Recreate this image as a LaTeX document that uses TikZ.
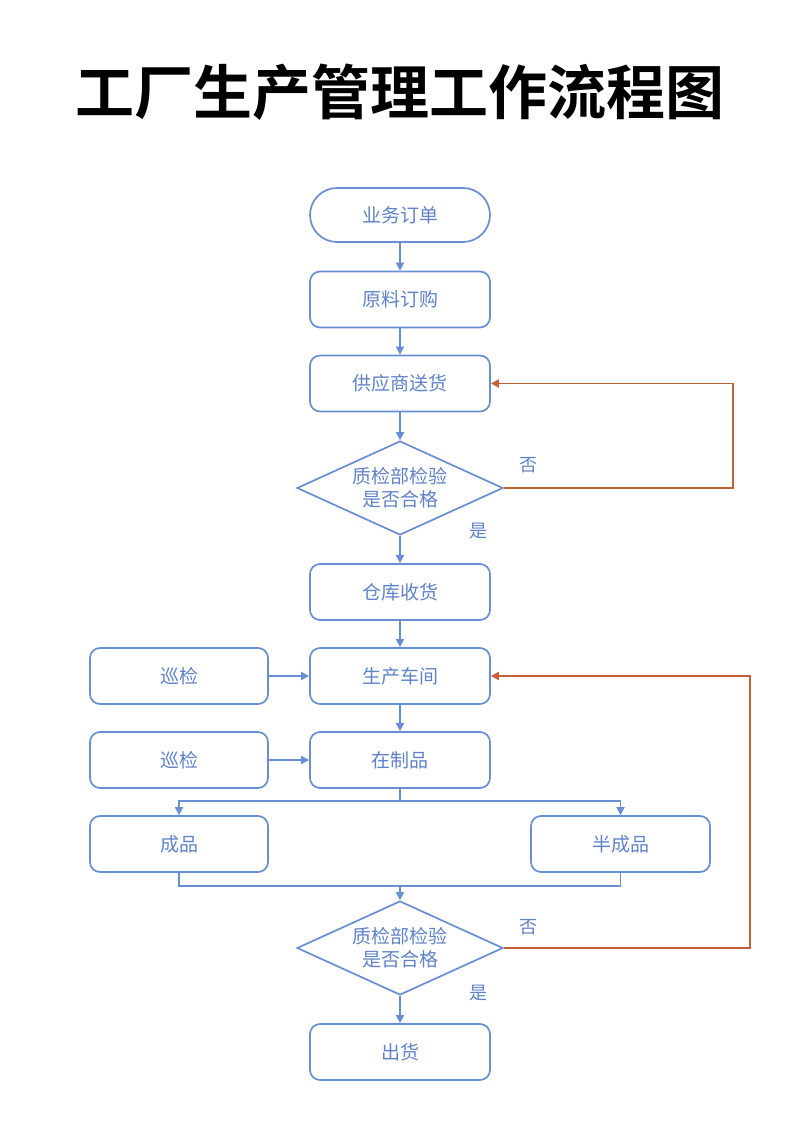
\documentclass[tikz,border=0pt]{standalone}
\usepackage{fontspec}
\setmainfont{Noto Sans CJK SC}
\newfontfamily\cjkbold{Noto Sans CJK SC Bold}
\usetikzlibrary{shapes.geometric,arrows.meta}
\definecolor{cblue}{RGB}{104,142,212}
\definecolor{ctext}{RGB}{96,130,200}
\definecolor{corange}{RGB}{196,98,54}
\begin{document}
\begin{tikzpicture}[x=1pt,y=-1pt,
  box/.style={draw=cblue,line width=1.7pt,rounded corners=10pt,minimum width=180pt,minimum height=56pt,inner sep=0pt,text=ctext,font=\fontsize{19}{21}\selectfont},
  term/.style={draw=cblue,line width=1.7pt,rounded corners=27pt,minimum width=180pt,minimum height=54pt,inner sep=0pt,text=ctext,font=\fontsize{19}{21}\selectfont},
  dec/.style={draw=cblue,line width=1.7pt,diamond,aspect=2.19,minimum width=206pt,minimum height=94pt,inner sep=0pt,text=ctext,align=center,font=\fontsize{19}{23}\selectfont},
  lbl/.style={text=ctext,font=\fontsize{18}{20}\selectfont,inner sep=0pt},
  arr/.style={draw=cblue,line width=1.7pt,-{Triangle[length=8pt,width=8pt]}},
  ln/.style={draw=cblue,line width=1.7pt},
  rarr/.style={draw=corange,line width=1.7pt,-{Triangle[length=8pt,width=8pt]}}
]
\fill[white] (0,0) rectangle (800,1131);
\useasboundingbox (0,0) rectangle (800,1131);
\node[font=\cjkbold\fontsize{59}{62}\selectfont] (title) at (400,92) {工厂生产管理工作流程图};

\node[term] (n1) at (400,215) {业务订单};
\node[box] (n2) at (400,299.5) {原料订购};
\node[box] (n3) at (400,383.5) {供应商送货};
\node[dec] (d1) at (400,488) {质检部检验\\是否合格};
\node[box] (n4) at (400,592) {仓库收货};
\node[box] (n5) at (400,676) {生产车间};
\node[box,minimum width=178pt] (x1) at (179,676) {巡检};
\node[box] (n6) at (400,760) {在制品};
\node[box,minimum width=178pt] (x2) at (179,760) {巡检};
\node[box,minimum width=178pt] (c1) at (179,844) {成品};
\node[box,minimum width=179pt] (c2) at (620.5,844) {半成品};
\node[dec] (d2) at (400,948) {质检部检验\\是否合格};
\node[box] (n7) at (400,1052) {出货};

\node[lbl] (no1) at (528,465) {否};
\node[lbl] (yes1) at (478,531) {是};
\node[lbl] (no2) at (528,927) {否};
\node[lbl] (yes2) at (478,993) {是};

\coordinate (s) at (400,801);
\coordinate (m) at (400,886);

\draw[arr] (n1) -- (n2);
\draw[arr] (n2) -- (n3);
\draw[arr] (n3) -- (d1);
\draw[arr] (d1) -- (n4);
\draw[arr] (n4) -- (n5);
\draw[arr] (x1) -- (n5);
\draw[arr] (n5) -- (n6);
\draw[arr] (x2) -- (n6);
\draw[ln] (n6.south) -- (s);
\draw[arr] (s) -| (c1.north);
\draw[arr] (s) -| (c2.north);
\draw[ln] (c1.south) |- (m);
\draw[ln] (c2.south) |- (m);
\draw[arr] (m) -- (d2.north);
\draw[arr] (d2) -- (n7);
\draw[rarr] (d1.east) -| (733,383.5) -- (n3.east);
\draw[rarr] (d2.east) -| (750,676) -- (n5.east);
\end{tikzpicture}
\end{document}
